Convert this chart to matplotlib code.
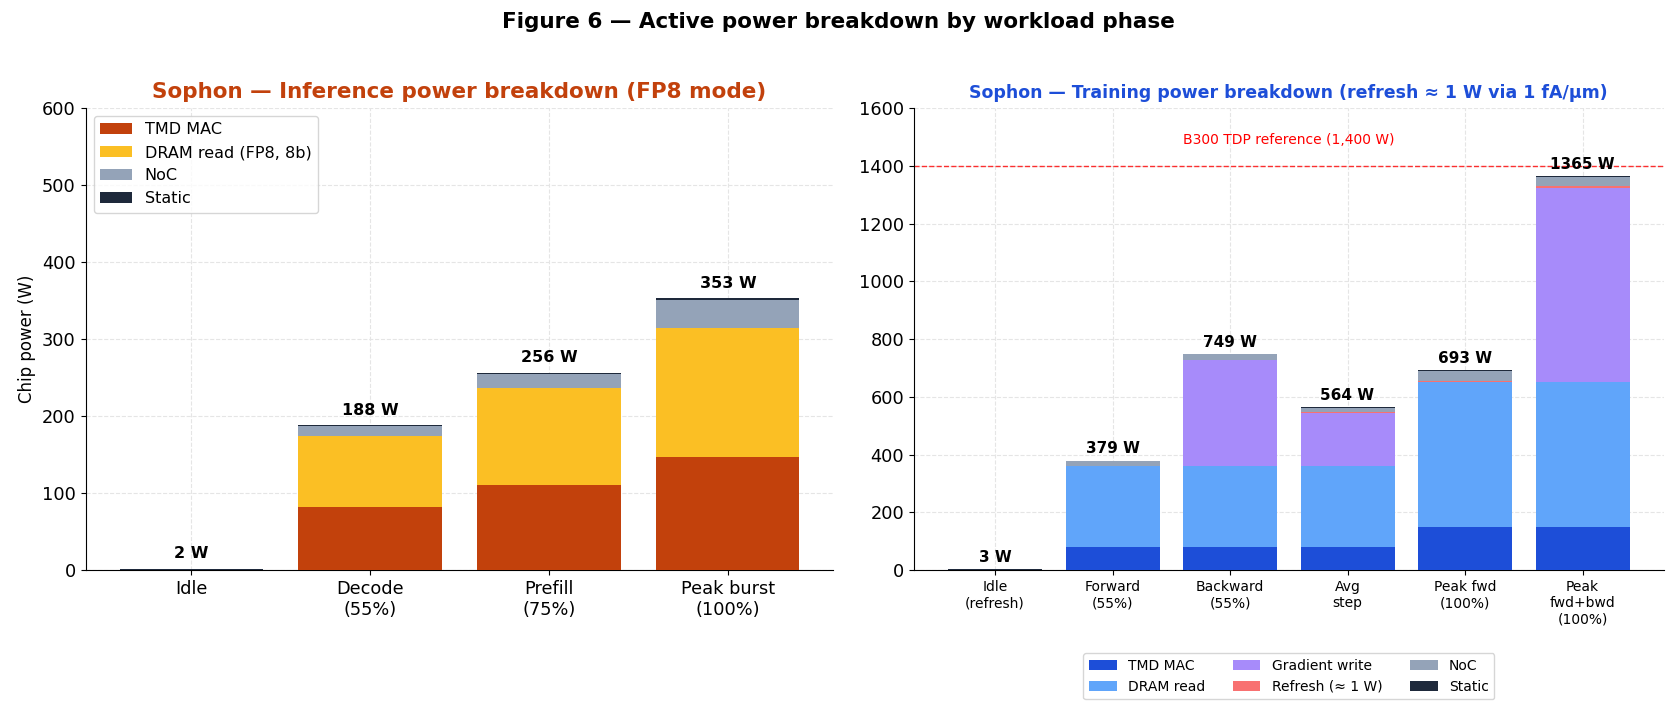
import numpy as np
import matplotlib.pyplot as plt

# inference (left)
inf_phases = ['Idle', 'Decode\n(55%)', 'Prefill\n(75%)', 'Peak burst\n(100%)']
inf_mac = [0, 82, 110, 147]
inf_dram = [0, 92, 126, 168]
inf_noc = [0, 13, 19, 36]
inf_static = [2, 1, 1, 2]

# training (right)
tr_phases = ['Idle\n(refresh)', 'Forward\n(55%)', 'Backward\n(55%)', 'Avg\nstep',
             'Peak fwd\n(100%)', 'Peak\nfwd+bwd\n(100%)']
tr_mac = [0, 82, 82, 82, 150, 150]
tr_dram = [0, 280, 280, 280, 500, 500]
tr_grad = [0, 0, 366, 183, 0, 675]
tr_refresh = [1, 0, 0, 4, 6, 6]
tr_noc = [0, 16, 20, 13, 35, 32]
tr_static = [2, 1, 1, 2, 2, 2]
tdp = 1400

fig = plt.figure(figsize=(16.77, 7.11), dpi=100)
ax1 = fig.add_axes([0.051, 0.198, 0.446, 0.650])
ax2 = fig.add_axes([0.545, 0.198, 0.447, 0.650])
fig.suptitle('Figure 6 — Active power breakdown by workload phase',
             fontsize=15.5, fontweight='bold', y=0.983)


def stack(ax, phases, series, labels, colors):
    x = np.arange(len(phases))
    bottom = np.zeros(len(phases))
    for vals, lab, col in zip(series, labels, colors):
        vals = np.array(vals, dtype=float)
        ax.bar(x, vals, 0.8, bottom=bottom, color=col, label=lab, zorder=3)
        bottom += vals
    return x, bottom


def style(ax):
    ax.grid(True, linestyle='--', color='#e5e5e5', linewidth=0.8, zorder=0)
    ax.spines['top'].set_visible(False)
    ax.spines['right'].set_visible(False)


# left
x, tot = stack(ax1, inf_phases, [inf_mac, inf_dram, inf_noc, inf_static],
               ['TMD MAC', 'DRAM read (FP8, 8b)', 'NoC', 'Static'],
               ['#c2410c', '#fbbf24', '#94a3b8', '#1e293b'])
for xi, t in zip(x, tot):
    ax1.text(xi, t + 10, f'{t:.0f} W', ha='center', va='bottom',
             fontsize=11.5, fontweight='bold', zorder=4)
ax1.set_xticks(x)
ax1.set_xticklabels(inf_phases, fontsize=12.8)
ax1.tick_params(axis='y', labelsize=12.8)
ax1.set_ylim(0, 600)
ax1.set_ylabel('Chip power (W)', fontsize=12)
ax1.set_title('Sophon — Inference power breakdown (FP8 mode)', color='#c2410c',
              fontsize=15.5, fontweight='bold', pad=7)
ax1.legend(loc='upper left', fontsize=11.5)
style(ax1)

# right
x, tot = stack(ax2, tr_phases,
               [tr_mac, tr_dram, tr_grad, tr_refresh, tr_noc, tr_static],
               ['TMD MAC', 'DRAM read', 'Gradient write', 'Refresh (≈ 1 W)', 'NoC', 'Static'],
               ['#1d4ed8', '#60a5fa', '#a78bfa', '#f87171', '#94a3b8', '#1e293b'])
for xi, t in zip(x, tot):
    ax2.text(xi, t + 15, f'{t:.0f} W', ha='center', va='bottom',
             fontsize=11, fontweight='bold', zorder=4)
ax2.axhline(tdp, color='red', linestyle='--', linewidth=1, alpha=0.8, zorder=2)
ax2.text(2.5, tdp + 65, 'B300 TDP reference (1,400 W)', color='red',
         ha='center', va='bottom', fontsize=10)
ax2.set_xticks(x)
ax2.set_xticklabels(tr_phases, fontsize=10)
ax2.tick_params(axis='y', labelsize=12.8)
ax2.set_ylim(0, 1600)
ax2.set_title('Sophon — Training power breakdown (refresh ≈ 1 W via 1 fA/µm)',
              color='#1d4ed8', fontsize=12.5, fontweight='bold', pad=7)
ax2.legend(loc='upper center', bbox_to_anchor=(0.5, -0.165), ncol=3, fontsize=10)
style(ax2)

fig.savefig('out.png', dpi=100)
